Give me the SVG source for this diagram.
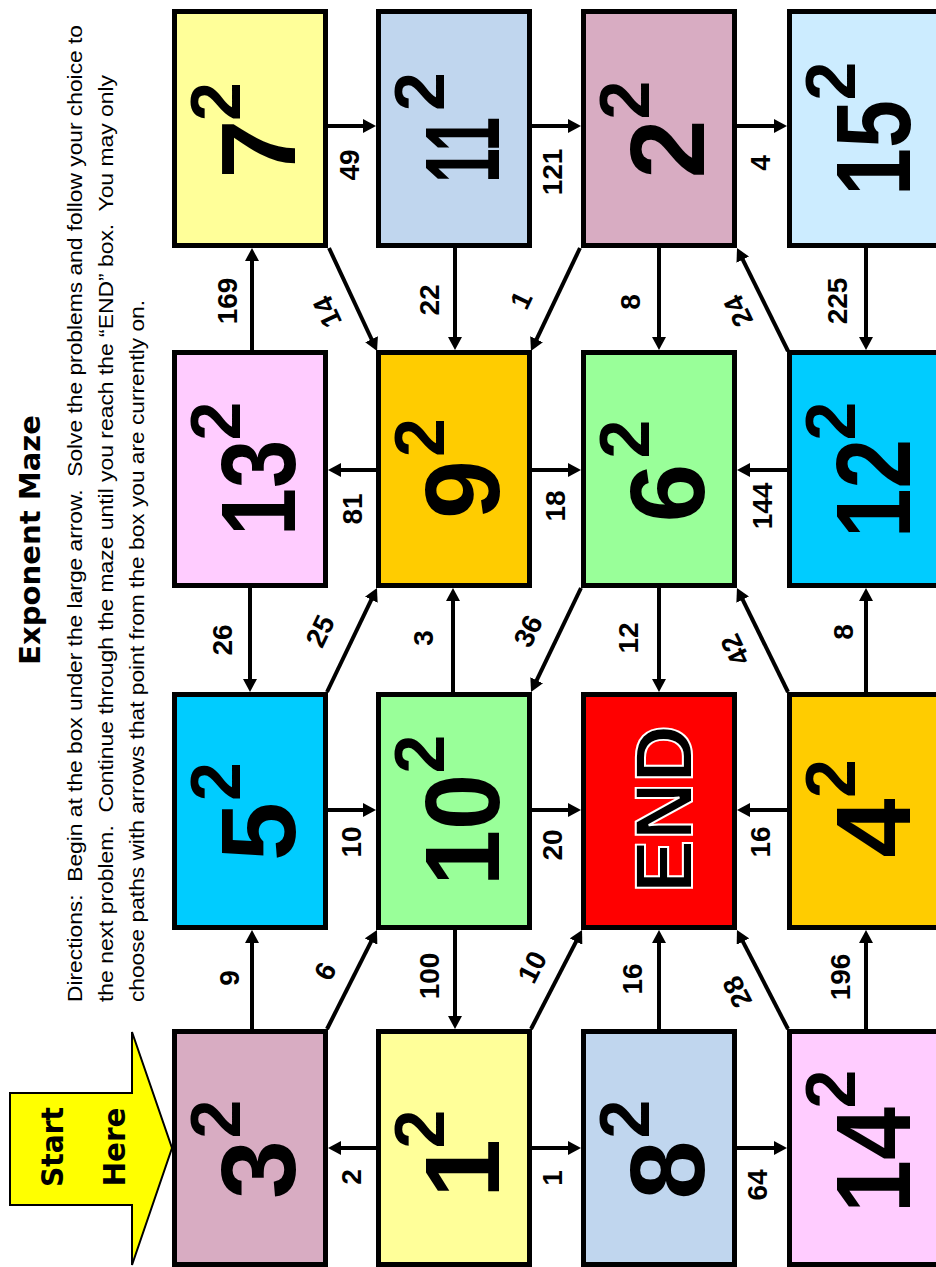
<svg xmlns="http://www.w3.org/2000/svg" width="936" height="1267" viewBox="0 0 936 1267">
<style>
.box{stroke:#000;stroke-width:5}
.base{font-family:"Liberation Sans",Arial,sans-serif;font-weight:bold;font-size:106px;fill:#000;text-anchor:middle}
.sup{font-family:"Liberation Sans",Arial,sans-serif;font-weight:bold;font-size:70px;fill:#000;text-anchor:middle}
.end{font-family:"Liberation Sans",Arial,sans-serif;font-weight:bold;font-size:82px;fill:#000;stroke:#fff;stroke-width:2;text-anchor:middle}
.con line{stroke:#000;stroke-width:4;marker-end:url(#ah)}
.lbl{font-family:"Liberation Sans",Arial,sans-serif;font-weight:bold;font-size:28px;fill:#000;text-anchor:middle}
.title{font-family:"DejaVu Sans",sans-serif;font-weight:bold;font-size:28px;fill:#000;text-anchor:middle}
.dir{font-family:"Liberation Sans",Arial,sans-serif;font-size:20px;fill:#000}
.start{font-family:"DejaVu Sans",sans-serif;font-weight:bold;font-size:30px;fill:#000;text-anchor:middle}
</style>
<defs>
<marker id="ah" viewBox="0 0 13 14" markerWidth="13" markerHeight="14" refX="2" refY="7" orient="auto" markerUnits="userSpaceOnUse">
<path d="M0,0 L13,7 L0,14 z" fill="#000"/>
</marker>
</defs>
<rect width="936" height="1267" fill="#fff"/>

<g id="header">
<text class="title" transform="translate(40,540) rotate(-90)" textLength="250" lengthAdjust="spacingAndGlyphs">Exponent Maze</text>
<text class="dir" xml:space="preserve" transform="translate(82,1002) rotate(-90)" textLength="977" lengthAdjust="spacingAndGlyphs">Directions:  Begin at the box under the large arrow.  Solve the problems and follow your choice to</text>
<text class="dir" xml:space="preserve" transform="translate(113,1002) rotate(-90)" textLength="927" lengthAdjust="spacingAndGlyphs">the next problem.  Continue through the maze until you reach the “END” box.  You may only</text>
<text class="dir" xml:space="preserve" transform="translate(144,1002) rotate(-90)" textLength="702" lengthAdjust="spacingAndGlyphs">choose paths with arrows that point from the box you are currently on.</text>
</g>

<g id="start-arrow">
<polygon points="10,1093 132,1093 132,1032 172,1148 132,1265 132,1205 10,1205" fill="#FFFF00" stroke="#000" stroke-width="2"/>
<text class="start" transform="translate(63,1147) rotate(-90)" textLength="80" lengthAdjust="spacingAndGlyphs">Start</text>
<text class="start" transform="translate(125,1147) rotate(-90)" textLength="79" lengthAdjust="spacingAndGlyphs">Here</text>
</g>

<g id="connectors" class="con">
<line x1="328" y1="126" x2="365" y2="126"/>
<line x1="532" y1="126" x2="570" y2="126"/>
<line x1="737" y1="126" x2="776" y2="126"/>
<line x1="376" y1="470" x2="339" y2="470"/>
<line x1="532" y1="470" x2="570" y2="470"/>
<line x1="787" y1="470" x2="748" y2="470"/>
<line x1="328" y1="810" x2="365" y2="810"/>
<line x1="532" y1="810" x2="570" y2="810"/>
<line x1="787" y1="810" x2="748" y2="810"/>
<line x1="376" y1="1148" x2="339" y2="1148"/>
<line x1="532" y1="1148" x2="570" y2="1148"/>
<line x1="737" y1="1148" x2="776" y2="1148"/>
<line x1="252" y1="350" x2="252" y2="259"/>
<line x1="455" y1="248" x2="455" y2="339"/>
<line x1="659" y1="248" x2="659" y2="339"/>
<line x1="866" y1="248" x2="866" y2="339"/>
<line x1="250" y1="588" x2="250" y2="681"/>
<line x1="453" y1="692" x2="453" y2="599"/>
<line x1="659" y1="588" x2="659" y2="681"/>
<line x1="866" y1="692" x2="866" y2="599"/>
<line x1="252" y1="1029" x2="252" y2="941"/>
<line x1="455" y1="930" x2="455" y2="1018"/>
<line x1="659" y1="1029" x2="659" y2="941"/>
<line x1="866" y1="1029" x2="866" y2="941"/>
<line x1="329" y1="248" x2="372.4" y2="341"/>
<line x1="580" y1="248" x2="535.7" y2="341.1"/>
<line x1="788" y1="351" x2="741.9" y2="257.9"/>
<line x1="327" y1="692" x2="372.2" y2="597.9"/>
<line x1="581" y1="588" x2="535.8" y2="682.1"/>
<line x1="788" y1="692" x2="741.8" y2="597.9"/>
<line x1="327" y1="1029" x2="372" y2="939.8"/>
<line x1="531" y1="1029" x2="577" y2="939.8"/>
<line x1="788" y1="1029" x2="742" y2="939.8"/>
<g class="lbl">
<text transform="translate(349,165) rotate(-90)" dy="0.35em">49</text>
<text transform="translate(552,172) rotate(-90)" dy="0.35em">121</text>
<text transform="translate(760,163) rotate(-90)" dy="0.35em">4</text>
<text transform="translate(352,509) rotate(-90)" dy="0.35em">81</text>
<text transform="translate(555,506) rotate(-90)" dy="0.35em">18</text>
<text transform="translate(762,506) rotate(-90)" dy="0.35em">144</text>
<text transform="translate(351,842) rotate(-90)" dy="0.35em">10</text>
<text transform="translate(552,845) rotate(-90)" dy="0.35em">20</text>
<text transform="translate(760,842) rotate(-90)" dy="0.35em">16</text>
<text transform="translate(351,1177) rotate(-90)" dy="0.35em">2</text>
<text transform="translate(552,1178) rotate(-90)" dy="0.35em">1</text>
<text transform="translate(757,1185) rotate(-90)" dy="0.35em">64</text>
<text transform="translate(227,301) rotate(-90)" dy="0.35em">169</text>
<text transform="translate(327,312) rotate(-115)" dy="0.35em">14</text>
<text transform="translate(429,300) rotate(-90)" dy="0.35em">22</text>
<text transform="translate(521,300) rotate(-64.6)" dy="0.35em">1</text>
<text transform="translate(630,302) rotate(-90)" dy="0.35em">8</text>
<text transform="translate(738,311) rotate(-116)" dy="0.35em">24</text>
<text transform="translate(837,301) rotate(-90)" dy="0.35em">225</text>
<text transform="translate(222,640) rotate(-90)" dy="0.35em">26</text>
<text transform="translate(320,631) rotate(-64)" dy="0.35em">25</text>
<text transform="translate(423,638) rotate(-90)" dy="0.35em">3</text>
<text transform="translate(528,631) rotate(-64)" dy="0.35em">36</text>
<text transform="translate(628,638) rotate(-90)" dy="0.35em">12</text>
<text transform="translate(735,650) rotate(-116)" dy="0.35em">42</text>
<text transform="translate(843,632) rotate(-90)" dy="0.35em">8</text>
<text transform="translate(229,978) rotate(-90)" dy="0.35em">9</text>
<text transform="translate(325,971) rotate(-63)" dy="0.35em">6</text>
<text transform="translate(429,976) rotate(-90)" dy="0.35em">100</text>
<text transform="translate(532,967) rotate(-63)" dy="0.35em">10</text>
<text transform="translate(632,979) rotate(-90)" dy="0.35em">16</text>
<text transform="translate(737,992) rotate(-117)" dy="0.35em">28</text>
<text transform="translate(840,977) rotate(-90)" dy="0.35em">196</text>
</g>
</g>

<g id="n7">
<rect class="box" x="174.5" y="11.5" width="151" height="234" fill="#FFFF99"/>
<text class="base" transform="translate(295,149) rotate(-90)">7</text>
<text class="sup" transform="translate(240,101.5) rotate(-90)">2</text>
</g>
<g id="n11">
<rect class="box" x="378.5" y="11.5" width="151" height="234" fill="#C0D6EE"/>
<text class="base" transform="translate(499,150) rotate(-90)" textLength="66" lengthAdjust="spacingAndGlyphs">11</text>
<text class="sup" transform="translate(444,91.5) rotate(-90)">2</text>
</g>
<g id="n2">
<rect class="box" x="583.5" y="11.5" width="151" height="234" fill="#D8ACC2"/>
<text class="base" transform="translate(704,149) rotate(-90)">2</text>
<text class="sup" transform="translate(649,100) rotate(-90)">2</text>
</g>
<g id="n15">
<rect class="box" x="789.5" y="11.5" width="151" height="234" fill="#CCECFF"/>
<text class="base" transform="translate(910,148) rotate(-90)" textLength="96" lengthAdjust="spacingAndGlyphs">15</text>
<text class="sup" transform="translate(855,81) rotate(-90)">2</text>
</g>

<g id="n13">
<rect class="box" x="174.5" y="352.5" width="151" height="233" fill="#FFCCFF"/>
<text class="base" transform="translate(295,488) rotate(-90)" textLength="96" lengthAdjust="spacingAndGlyphs">13</text>
<text class="sup" transform="translate(240,421) rotate(-90)">2</text>
</g>
<g id="n9">
<rect class="box" x="378.5" y="352.5" width="151" height="233" fill="#FFCC00"/>
<text class="base" transform="translate(499,489.5) rotate(-90)">9</text>
<text class="sup" transform="translate(444,437.5) rotate(-90)">2</text>
</g>
<g id="n6">
<rect class="box" x="583.5" y="352.5" width="151" height="233" fill="#99FF99"/>
<text class="base" transform="translate(704,493) rotate(-90)">6</text>
<text class="sup" transform="translate(649,439) rotate(-90)">2</text>
</g>
<g id="n12">
<rect class="box" x="789.5" y="352.5" width="151" height="233" fill="#00CCFF"/>
<text class="base" transform="translate(910,488.5) rotate(-90)" textLength="99" lengthAdjust="spacingAndGlyphs">12</text>
<text class="sup" transform="translate(855,421) rotate(-90)">2</text>
</g>

<g id="n5">
<rect class="box" x="174.5" y="694.5" width="151" height="233" fill="#00CCFF"/>
<text class="base" transform="translate(295,831.5) rotate(-90)">5</text>
<text class="sup" transform="translate(240,781.5) rotate(-90)">2</text>
</g>
<g id="n10">
<rect class="box" x="378.5" y="694.5" width="151" height="233" fill="#99FF99"/>
<text class="base" transform="translate(499,830) rotate(-90)" textLength="112" lengthAdjust="spacingAndGlyphs">10</text>
<text class="sup" transform="translate(444,754) rotate(-90)">2</text>
</g>
<g id="nEND">
<rect class="box" x="583.5" y="694.5" width="151" height="233" fill="#FF0000"/>
<text class="end" transform="translate(692,809) rotate(-90)" textLength="168" lengthAdjust="spacingAndGlyphs">END</text>
</g>
<g id="n4">
<rect class="box" x="789.5" y="694.5" width="151" height="233" fill="#FFCC00"/>
<text class="base" transform="translate(910,828) rotate(-90)">4</text>
<text class="sup" transform="translate(855,778.5) rotate(-90)">2</text>
</g>

<g id="n3">
<rect class="box" x="174.5" y="1031.5" width="151" height="233" fill="#D8ACC2"/>
<text class="base" transform="translate(295,1169.5) rotate(-90)">3</text>
<text class="sup" transform="translate(240,1119) rotate(-90)">2</text>
</g>
<g id="n1">
<rect class="box" x="378.5" y="1031.5" width="151" height="233" fill="#FFFF99"/>
<text class="base" transform="translate(499,1168.5) rotate(-90)">1</text>
<text class="sup" transform="translate(444,1129) rotate(-90)">2</text>
</g>
<g id="n8">
<rect class="box" x="583.5" y="1031.5" width="151" height="233" fill="#C0D6EE"/>
<text class="base" transform="translate(704,1170) rotate(-90)">8</text>
<text class="sup" transform="translate(649,1119) rotate(-90)">2</text>
</g>
<g id="n14">
<rect class="box" x="789.5" y="1031.5" width="151" height="233" fill="#FFCCFF"/>
<text class="base" transform="translate(910,1160) rotate(-90)" textLength="106" lengthAdjust="spacingAndGlyphs">14</text>
<text class="sup" transform="translate(855,1089) rotate(-90)">2</text>
</g>
</svg>
